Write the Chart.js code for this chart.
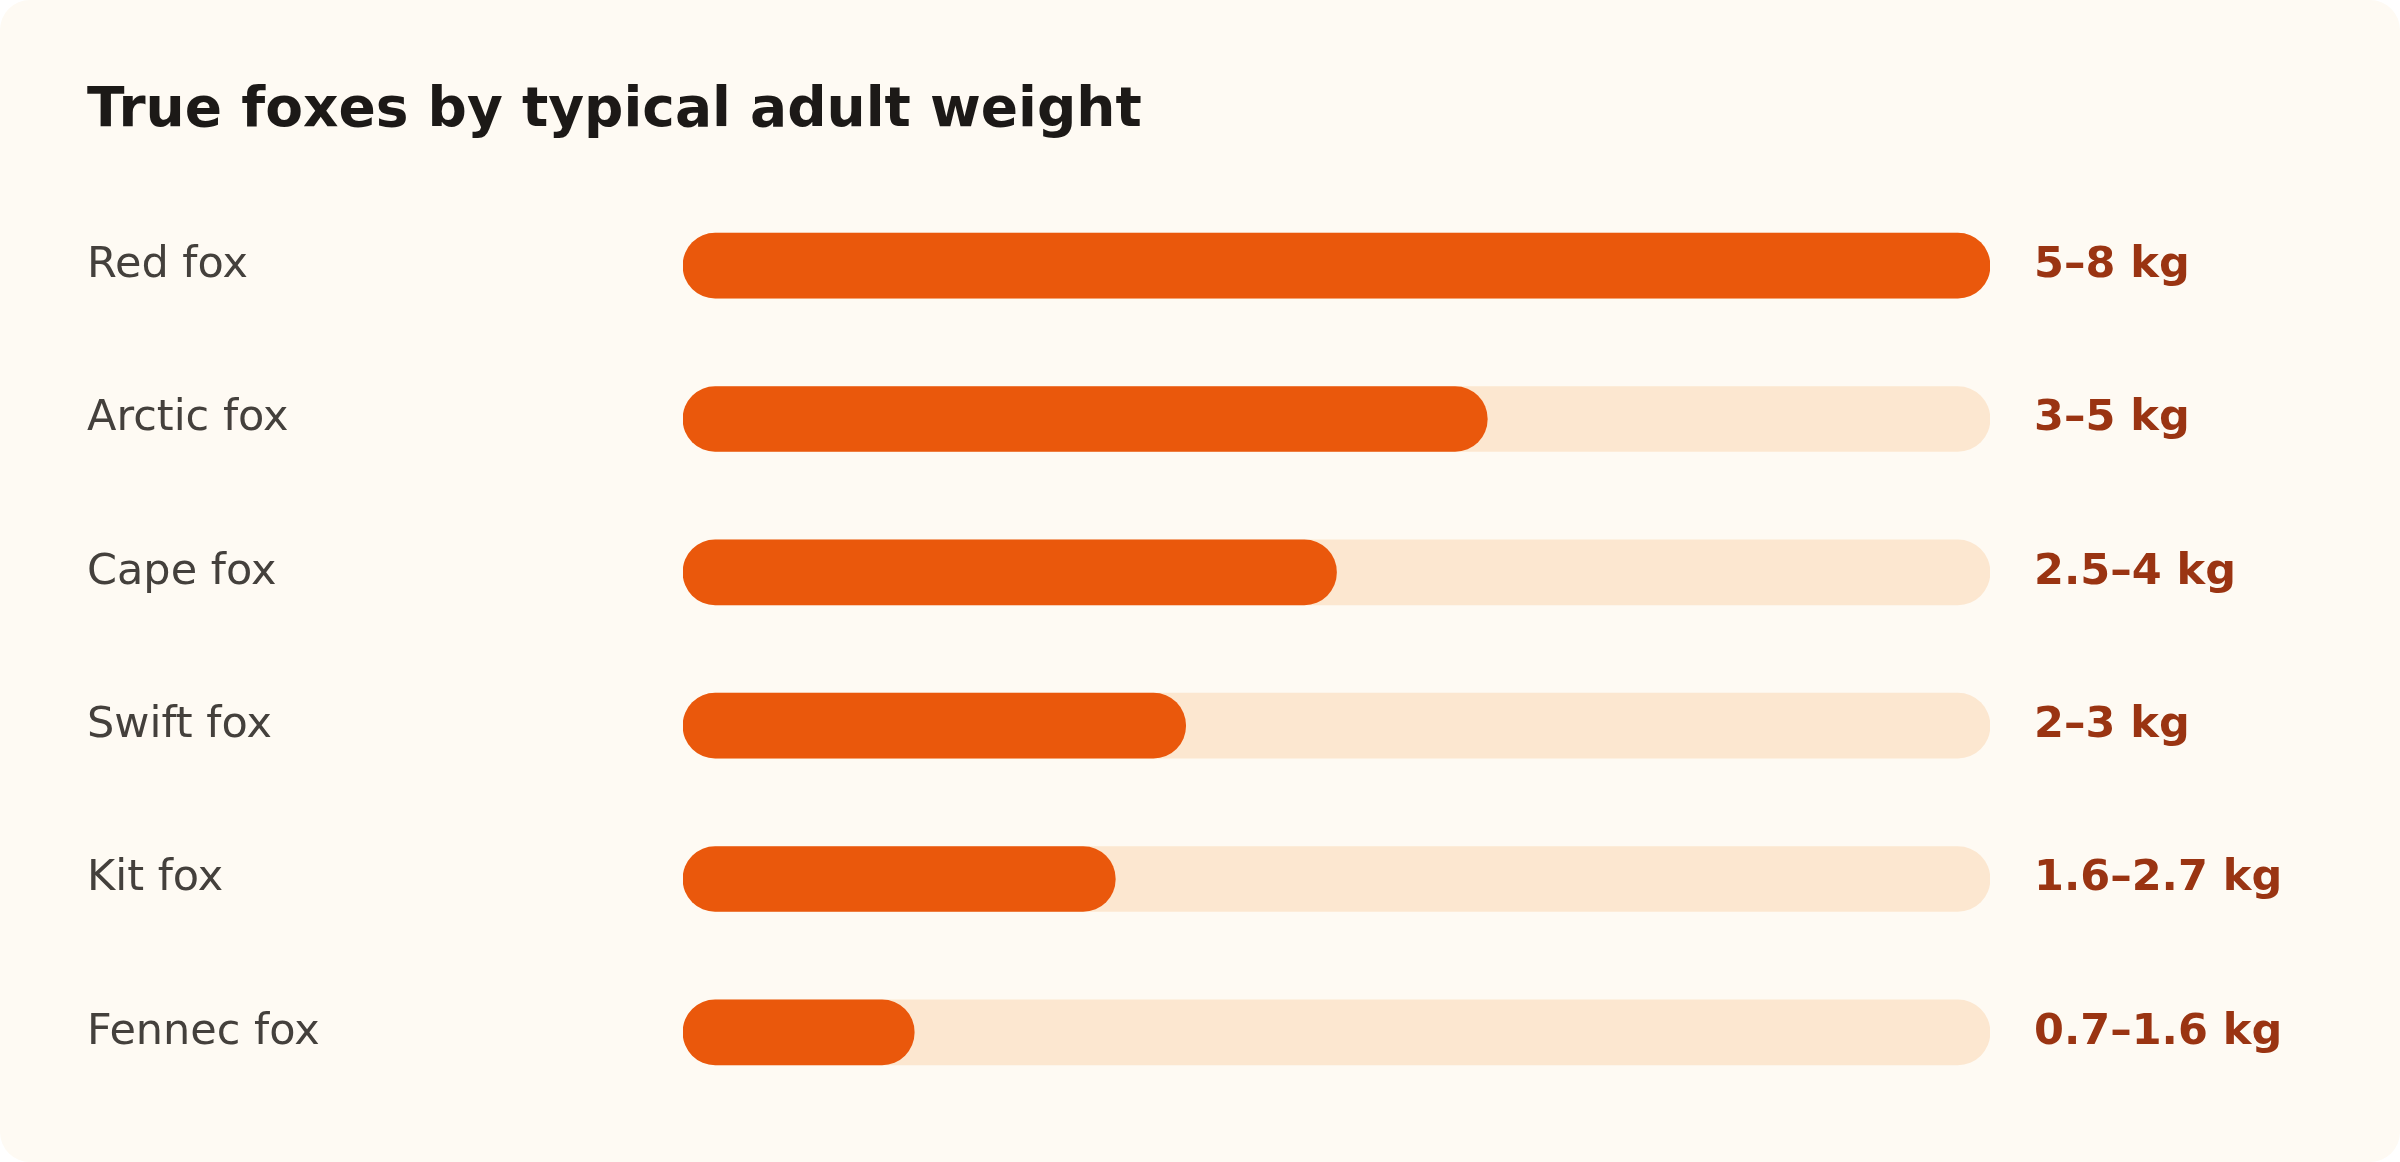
<!DOCTYPE html>
<html><head><meta charset="utf-8">
<script src="https://cdn.jsdelivr.net/npm/chart.js@4.4.1/dist/chart.umd.min.js"></script>
<style>
html,body{margin:0;padding:0;background:#ffffff;}
#card{position:absolute;left:0;top:0;width:2400px;height:1162px;background:#FEFAF3;border-radius:30px;overflow:hidden;}
canvas{display:block;}
</style></head>
<body><div id="card"><canvas id="c" width="2400" height="1162"></canvas></div>
<script>
const title = "True foxes by typical adult weight";
const species = ["Red fox","Arctic fox","Cape fox","Swift fox","Kit fox","Fennec fox"];
const rangeLabels = ["5–8 kg","3–5 kg","2.5–4 kg","2–3 kg","1.6–2.7 kg","0.7–1.6 kg"];
const midWeights = [6.5, 4, 3.25, 2.5, 2.15, 1.15];
const scaleMax = 6.5;
const trackValues = species.map(() => scaleMax);

const FONT = "'DejaVu Sans', sans-serif";
const overlay = {
  id: 'overlay',
  afterDraw(chart) {
    const ctx = chart.ctx;
    ctx.save();
    ctx.fillStyle = '#1C1917';
    ctx.font = "bold 55px " + FONT;
    ctx.textBaseline = 'middle';
    ctx.textAlign = 'left';
    ctx.fillText(title, 87, 112);
    const y = chart.scales.y;
    ctx.fillStyle = '#9A3412';
    ctx.font = "bold 43px " + FONT;
    rangeLabels.forEach((t, i) => {
      ctx.fillText(t, 2034, y.getPixelForValue(i));
    });
    ctx.restore();
  }
};

new Chart(document.getElementById('c'), {
  type: 'bar',
  data: {
    labels: species,
    datasets: [
      { data: midWeights, backgroundColor: '#EA580C', barThickness: 65, borderRadius: 33, borderSkipped: false, grouped: false },
      { data: trackValues, backgroundColor: '#FCE7D0', barThickness: 65, borderRadius: 33, borderSkipped: false, grouped: false }
    ]
  },
  options: {
    indexAxis: 'y',
    responsive: false,
    animation: false,
    layout: { padding: { left: 87, right: 410, top: 189, bottom: 53 } },
    plugins: { legend: { display: false }, tooltip: { enabled: false } },
    scales: {
      x: { display: false, min: 0, max: scaleMax },
      y: {
        grid: { display: false }, border: { display: false },
        ticks: { color: '#44403C', font: { family: FONT, size: 43 }, crossAlign: 'far', padding: 0 },
        afterFit(s) { s.width = 596; }
      }
    }
  },
  plugins: [overlay]
});
</script></body></html>
